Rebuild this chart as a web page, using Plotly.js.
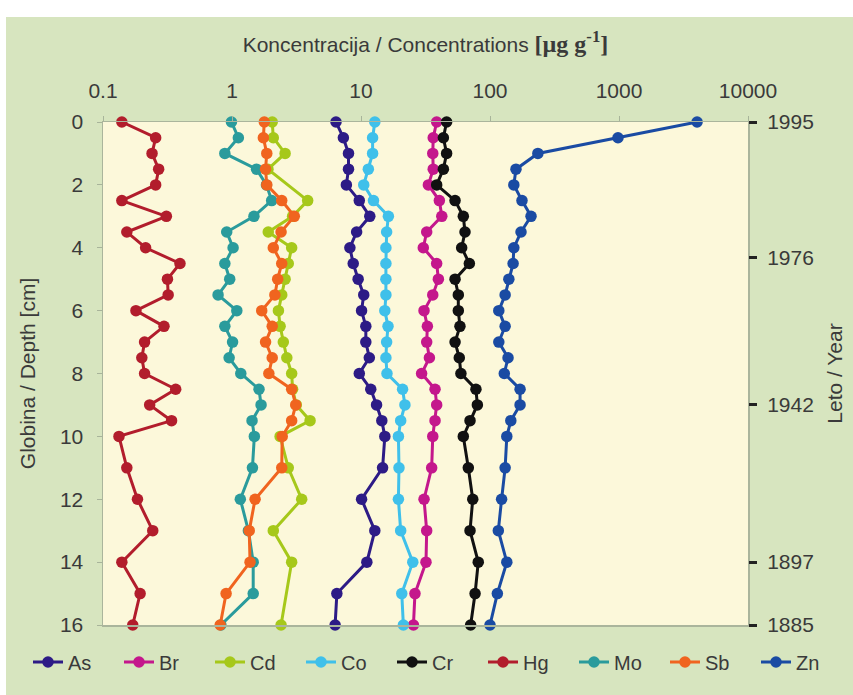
<!DOCTYPE html>
<html>
<head>
<meta charset="utf-8">
<script src="https://cdn.plot.ly/plotly-3.0.1.min.js"></script>
<style>html,body{margin:0;padding:0;background:#fff;}#chart{width:853px;height:695px;}</style>
</head>
<body>
<div id="chart"></div>
<script>
// Depth of each sample [cm]
const depth = [0,0.5,1,1.5,2,2.5,3,3.5,4,4.5,5,5.5,6,6.5,7,7.5,8,8.5,9,9.5,10,11,12,13,14,15,16];

// Concentrations [µg g-1]
const As = [6.4,7.3,8.0,8.0,7.7,9.7,11.7,9.25,8.2,8.7,9.5,10.5,10.1,10.9,10.9,11.6,9.7,11.9,13.2,14.5,15.3,14.7,10.1,12.8,11.1,6.5,6.3];
const Br = [38.6,36.3,36,36.3,33.3,40.5,42.3,32.3,30.4,38.6,39.8,36,30.8,32.7,32.3,33.9,29.5,37.5,38.6,37.5,36,35.3,30.8,32.3,31.9,26.2,25.5];
const Cd = [2.05,2.09,2.58,1.90,null,3.86,2.95,1.91,2.90,2.73,2.58,2.43,2.29,2.36,2.5,2.66,2.9,2.95,3.15,4.03,2.36,2.73,3.47,2.09,2.9,null,2.40];
const Co = [12.8,12.3,12.3,11.4,10.5,12.5,16.3,15.8,15.6,15.6,15.6,15.6,15.3,16.2,15.8,15.6,15.9,21,21.9,20.3,19.5,19.7,19.5,20.3,25.2,20.7,21.3];
const Cr = [46.1,43.5,46.1,43.5,38.6,53.6,62.1,64,60.3,69.2,53.6,56.8,56.8,58.5,53.6,57.8,59.5,77.8,79.8,70,62.1,67.9,73.5,70,81.1,76.6,70.8];
const Hg = [0.14,0.256,0.24,0.27,0.256,0.14,0.31,0.153,0.214,0.395,0.316,0.32,0.18,0.297,0.21,0.20,0.21,0.366,0.23,0.34,0.133,0.153,0.185,0.243,0.14,0.194,0.17];
const Mo = [0.99,1.12,0.88,1.55,1.85,2.03,1.48,0.91,1.02,0.88,0.96,0.78,1.09,0.88,1.01,0.95,1.17,1.62,1.68,1.43,1.49,1.44,1.16,1.34,1.46,1.46,0.82];
const Sb = [1.78,1.75,1.86,1.82,1.86,2.43,3.04,2.40,2.09,2.43,2.26,2.15,1.70,2.05,1.82,2.05,1.93,2.9,3.12,2.9,2.45,2.43,1.51,1.36,1.38,0.90,0.81];
const Zn = [4030,982,235,159,153,177,208,174,153,151,140,131,117,131,117,138,129,171,171,145,135,131,123,116,135,114,100];

const elements = ['As','Br','Cd','Co','Cr','Hg','Mo','Sb','Zn'];
const seriesValues = [As,Br,Cd,Co,Cr,Hg,Mo,Sb,Zn];
const colors = ['#2d1b86','#c4178c','#a6c81a','#3fc0ea','#111111','#b21d2c','#2a9b9c','#f0641f','#1a4ba3'];

// X axis ticks
const xTickVals = [0.1,1,10,100,1000,10000];
const xTickText = ['0.1','1','10','100','1000','10000'];
// Right axis: years at depths
const yearDepth = [0,4.3,9,14,16];
const yearLabels = ['1995','1976','1942','1897','1885'];

const traces = elements.map((el,i)=>({
  type:'scatter', mode:'lines+markers', name:el,
  x: seriesValues[i], y: depth, connectgaps:true,
  line:{color:colors[i], width:3},
  marker:{color:colors[i], size:11.5},
  cliponaxis:false,
  legend: i < 5 ? 'legend' : 'legend2'
}));
// right axis helper (invisible)
traces.push({type:'scatter', mode:'markers', x:[null], y:[null], yaxis:'y2', showlegend:false, hoverinfo:'skip'});

// plot area in pixels: x 103..748, y 122..625
const W=853,H=695,L=103,R=105,T=122,B=70;
const pw=W-L-R, ph=H-T-B;
const px=v=>(v-L)/pw, py=v=>(H-B-v)/ph;

const FS = 21;
const font = {family:'Liberation Sans, Arial, sans-serif', size:FS, color:'#3a3a3a'};

const legendBase = {
  orientation:'h', xref:'container', yref:'container',
  xanchor:'left', y:(H-662)/H, yanchor:'middle',
  bgcolor:'rgba(0,0,0,0)', font:{size:20},
  entrywidth:46, entrywidthmode:'pixels', itemwidth:30, traceorder:'normal'
};

const layout = {
  width:W, height:H,
  margin:{l:L,r:R,t:T,b:B, autoexpand:false},
  paper_bgcolor:'#ffffff',
  plot_bgcolor:'rgba(0,0,0,0)',
  font: font,
  showlegend:true,
  shapes:[
    {type:'rect', xref:'paper', yref:'paper', x0:px(6), x1:px(853), y0:py(17), y1:py(695), fillcolor:'#d7e5bf', line:{width:0}, layer:'below'},
    {type:'rect', xref:'paper', yref:'paper', x0:0, x1:1, y0:0, y1:1, fillcolor:'#fcf8da', line:{width:0}, layer:'below'}
  ],
  xaxis:{
    type:'log', side:'top', range:[-1,4],
    tickvals:xTickVals, ticktext:xTickText,
    ticks:'outside', ticklen:5, tickcolor:'#a8b49a',
    ticklabelstandoff:9,
    showgrid:false, zeroline:false,
    showline:true, mirror:true, linecolor:'#aab59c', linewidth:1.5,
    tickfont:{size:FS},
    title:{text:'Koncentracija / Concentrations <b><span style="font-family:Liberation Serif, Times New Roman, serif;font-size:24px">[µg g<sup>-1</sup>]</span></b>', font:{size:FS}, standoff:20}
  },
  yaxis:{
    range:[16,0], dtick:2, tick0:0,
    ticks:'outside', ticklen:5, tickcolor:'#a8b49a',
    ticklabelstandoff:9,
    showgrid:false, zeroline:false,
    showline:true, mirror:true, linecolor:'#aab59c', linewidth:1.5,
    tickfont:{size:FS},
    title:{text:'Globina / Depth [cm]', font:{size:FS}, standoff:18}
  },
  yaxis2:{
    overlaying:'y', side:'right', anchor:'x', range:[16,0],
    tickvals:yearDepth, ticktext:yearLabels,
    ticks:'outside', ticklen:8, tickwidth:3, tickcolor:'#222',
    ticklabelstandoff:6,
    showgrid:false, zeroline:false, showline:false,
    tickfont:{size:FS},
    title:{text:'Leto / Year', font:{size:FS}, standoff:14}
  },
  legend: Object.assign({}, legendBase, {x: 28/W}),
  legend2: Object.assign({}, legendBase, {x: 483/W})
};

Plotly.newPlot('chart', traces, layout, {displayModeBar:false, staticPlot:true});
</script>
</body>
</html>
